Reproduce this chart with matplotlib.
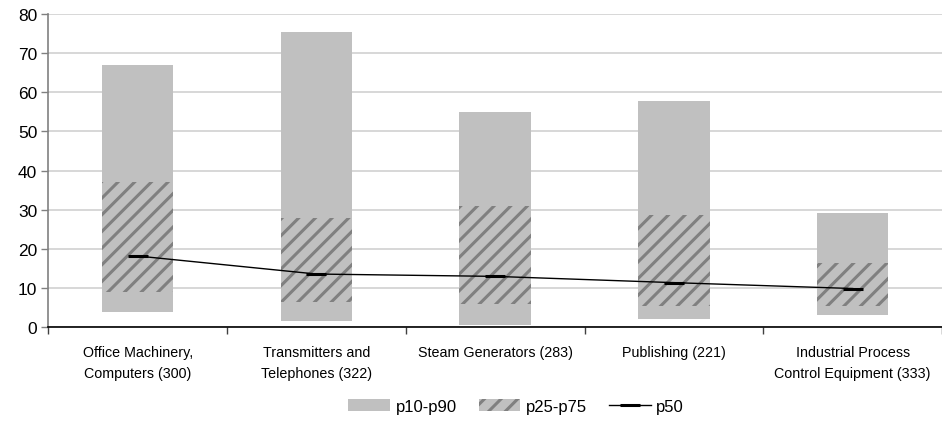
import matplotlib.pyplot as plt
import numpy as np

plt.rcParams['font.family'] = ['Liberation Sans', 'DejaVu Sans']
plt.rcParams['hatch.linewidth'] = 2.2
plt.rcParams['hatch.color'] = '#808080'

categories = ["Office Machinery,\nComputers (300)", "Transmitters and\nTelephones (322)",
              "Steam Generators (283)", "Publishing (221)",
              "Industrial Process\nControl Equipment (333)"]
p10 = [3.8, 1.7, 0.7, 2.2, 3.2]
p25 = [9.1, 6.4, 5.9, 5.4, 5.4]
p50 = [18.2, 13.6, 13.0, 11.4, 9.9]
p75 = [37.2, 27.8, 31.0, 28.7, 16.5]
p90 = [67.0, 75.4, 55.0, 57.8, 29.2]

fig = plt.figure(figsize=(9.42, 4.35), dpi=100)
ax = fig.add_axes([0.0513, 0.2453, 0.9487, 0.7202])

x = np.arange(len(categories))
w = 0.4
b1 = ax.bar(x, np.array(p90) - np.array(p10), bottom=p10, width=w, color='#c0c0c0',
            linewidth=0, label='p10-p90', zorder=2)
b2 = ax.bar(x, np.array(p75) - np.array(p25), bottom=p25, width=w, color='#c0c0c0',
            edgecolor='#808080', linewidth=0, hatch='//', label='p25-p75', zorder=3)
l1, = ax.plot(x, p50, color='black', linewidth=1, marker='_', markersize=14,
              markeredgewidth=2.2, label='p50', zorder=4)

ax.set_ylim(0, 80)
ax.set_yticks(range(0, 81, 10))
ax.set_xlim(-0.5, 4.465)
ax.set_xticks(x)
ax.set_xticklabels(categories, fontsize=10.3, linespacing=1.6)
ax.set_xticks(np.arange(-0.5, 4.6, 1), minor=True)
ax.tick_params(axis='x', which='major', length=0, pad=13)
ax.tick_params(axis='x', which='minor', length=5, width=1, color='#404040')
ax.tick_params(axis='y', labelsize=12.5, length=5, width=1, color='#808080', pad=3)

ax.grid(axis='y', color='#d4d4d4', linewidth=1.3, zorder=0)
ax.set_axisbelow(True)
for s in ['top', 'right']:
    ax.spines[s].set_visible(False)
ax.spines['left'].set_color('#808080')
ax.spines['left'].set_linewidth(1.2)
ax.spines['bottom'].set_color('black')
ax.spines['bottom'].set_linewidth(1.2)

fig.legend(handles=[b1, b2, l1], loc='center', bbox_to_anchor=(0.548, 0.064), ncol=3,
           frameon=False, fontsize=12, handlelength=2.5, handleheight=0.75,
           columnspacing=1.3, handletextpad=0.35, borderpad=0)

fig.savefig('out.png', dpi=100)
